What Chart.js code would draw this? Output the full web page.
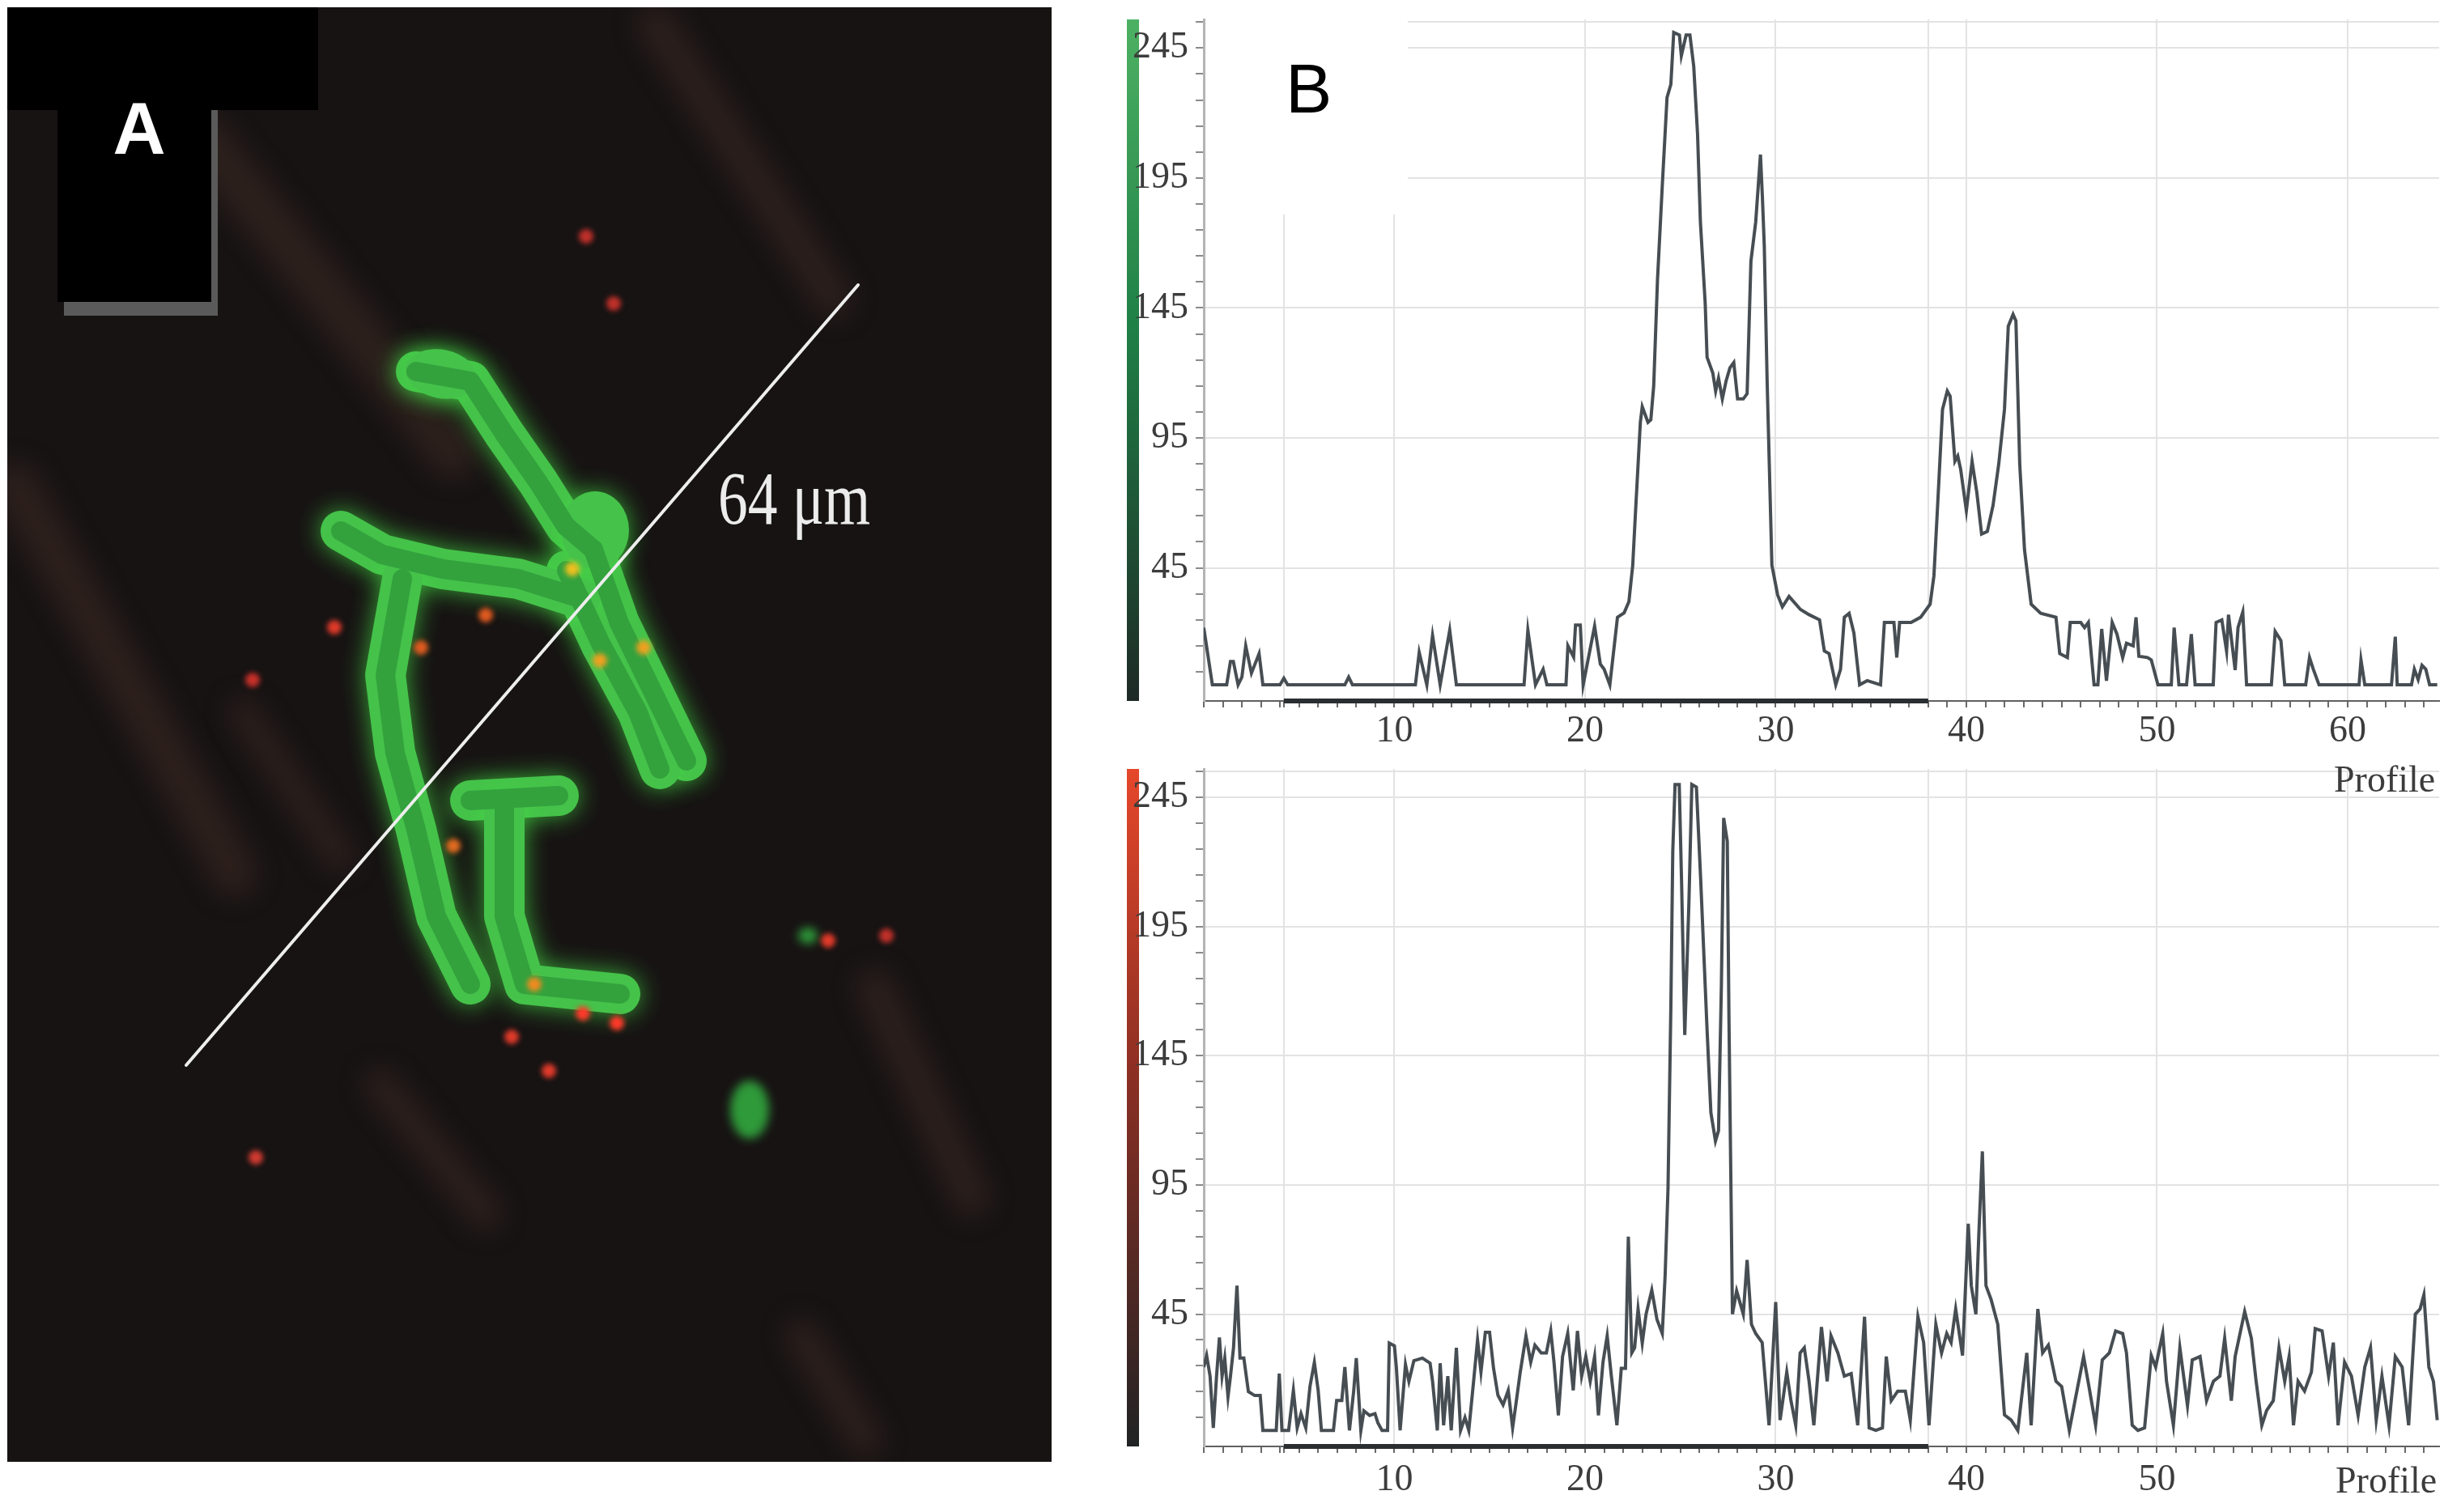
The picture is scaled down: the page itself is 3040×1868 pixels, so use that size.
<!DOCTYPE html>
<html>
<head>
<meta charset="utf-8">
<script src="https://cdn.jsdelivr.net/npm/chart.js@4.4.1/dist/chart.umd.min.js"></script>
<style>
  html, body { margin: 0; padding: 0; background: #fff; }
  body { width: 3040px; height: 1868px; position: relative; overflow: hidden; }
  canvas { display: block; }
  .abs { position: absolute; }
  #panelA { left: 9px; top: 9px; }
  .cbar { position: absolute; left: 1392px; width: 15px; }
  #cbarG { top: 24px; height: 842px; background: linear-gradient(#4db163, #1f8046 45%, #1e2a26 100%); }
  #cbarR { top: 950px; height: 837px; background: linear-gradient(#e5472a, #8c2f23 45%, #202324 100%); }
  .lbl { position: absolute; font-family: "Liberation Serif", serif; font-size: 46px; color: #3c3c3c; line-height: 1; }
  #B { left: 1588px; top: 66px; font-family: "Liberation Sans", Arial, sans-serif; font-size: 86px; color: #000; line-height: 1; }
</style>
</head>
<body>
<canvas id="panelA" class="abs" width="1290" height="1797"></canvas>
<div id="cbarG" class="cbar"></div>
<div id="cbarR" class="cbar"></div>
<canvas id="topChart" class="abs" width="1660" height="930" style="left:1380px;top:0"></canvas>
<canvas id="botChart" class="abs" width="1660" height="938" style="left:1380px;top:930px"></canvas>
<div id="B" class="abs">B</div>
<div class="lbl" style="left:2883px;top:940px">Profile</div>
<div class="lbl" style="left:2885px;top:1806px">Profile</div>

<script>
// distance along the line (µm) and intensity, green channel
const greenPos = [0, 0.45, 1.2, 1.4, 1.55, 1.8, 2.0, 2.2, 2.5, 2.9, 3.1, 4.0, 4.2, 4.4, 7.4, 7.6, 7.8,
  11.1, 11.3, 11.7, 12.0, 12.4, 12.9, 13.25, 16.8, 17.0, 17.4, 17.8, 18.0, 19.0, 19.1, 19.4, 19.5, 19.75, 19.9,
  20.5, 20.8, 21.0, 21.3, 21.7, 22.05, 22.3, 22.5, 22.65, 22.9, 23.0, 23.3, 23.45, 23.6, 23.8, 24.05, 24.3, 24.5,
  24.65, 24.95, 25.05, 25.3, 25.5, 25.7, 25.9, 26.05, 26.3, 26.4, 26.7, 26.85, 27.0, 27.2, 27.4, 27.6, 27.8,
  28.0, 28.3, 28.5, 28.7, 28.95, 29.2, 29.3, 29.4, 29.55, 29.8, 30.1, 30.35, 30.7, 31.3, 31.75, 32.3, 32.55,
  32.8, 33.15, 33.4, 33.6, 33.85, 34.1, 34.4, 34.8, 35.5, 35.7, 36.2, 36.35, 36.5, 37.1, 37.6, 38.1, 38.3,
  38.5, 38.75, 39.0, 39.15, 39.4, 39.55, 39.7, 40.0, 40.3, 40.55, 40.8, 41.1, 41.4, 41.7, 42.0, 42.2, 42.45,
  42.6, 42.8, 43.05, 43.4, 43.9, 44.7, 44.9, 45.3, 45.45, 46.0, 46.2, 46.4, 46.7, 46.9, 47.1, 47.35, 47.65,
  47.9, 48.2, 48.4, 48.75, 48.9, 49.05, 49.5, 49.7, 50.05, 50.75, 50.9, 51.15, 51.55, 51.8, 52.0, 52.95, 53.1,
  53.4, 53.65, 53.75, 54.1, 54.25, 54.5, 54.7, 56.0, 56.2, 56.5, 56.7, 57.8, 58.0, 58.2, 58.5, 60.6, 60.7,
  60.9, 62.3, 62.5, 62.6, 63.35, 63.5, 63.7, 63.9, 64.1, 64.3, 64.7];
const greenVal = [22, 0, 0, 9, 9, 0, 3, 15, 4.5, 12, 0, 0, 2.5, 0, 0, 3, 0,
  0, 12.5, 0, 19, 0, 21, 0, 0, 21, 0, 6, 0, 0, 15, 10.7, 23, 23, 0,
  22.6, 8, 6, 0, 26, 27.7, 32, 46, 67, 101, 107, 101, 102, 115, 156, 192, 226, 231,
  251, 250, 242, 250, 250, 238, 212, 178, 147, 126, 120, 113, 118, 110, 117, 122, 124,
  110, 110, 112, 163, 178, 204, 188, 169, 117, 46, 34.6, 30, 34, 29, 27, 25, 13,
  12, 0, 6, 26, 27.5, 20, 0, 1.6, 0, 24, 24, 10.5, 24, 24, 26, 31, 42,
  70, 106, 113, 111, 86, 88, 83, 67, 86, 74, 58, 59, 69, 85, 106, 138, 142.5,
  140, 85, 52, 31, 27.5, 26, 12, 10.5, 24, 24, 22, 24, 0, 0, 21.5, 1.6, 24,
  19.5, 10.5, 16, 15, 26, 11, 10.5, 9.6, 0, 0, 22, 0, 0, 19.5, 0, 0, 24,
  25, 13, 27, 5.7, 22, 28, 0, 0, 20.5, 17, 0, 0, 10.5, 6, 0, 0, 9.6,
  0, 0, 18.5, 0, 0, 6, 2, 7.5, 6, 0, 0];

// red channel
const redPos = [0, 0.15, 0.33, 0.5, 0.67, 0.82, 0.96, 1.1, 1.27, 1.4, 1.56, 1.74, 1.9, 2.1, 2.34, 2.67, 2.96,
  3.1, 3.8, 3.96, 4.1, 4.45, 4.7, 4.9, 5.1, 5.35, 5.57, 5.8, 6.0, 6.17, 6.8, 6.97, 7.24, 7.4, 7.64, 7.86, 8.0,
  8.24, 8.4, 8.7, 8.98, 9.13, 9.35, 9.64, 9.73, 10.0, 10.1, 10.3, 10.58, 10.76, 11.02, 11.47, 11.87, 12.0,
  12.25, 12.4, 12.58, 12.8, 12.98, 13.25, 13.47, 13.7, 13.9, 14.14, 14.36, 14.54, 14.77, 14.99, 15.2, 15.43,
  15.7, 15.97, 16.2, 16.37, 16.6, 16.9, 17.15, 17.37, 17.7, 17.97, 18.2, 18.37, 18.6, 18.82, 19.09, 19.38,
  19.6, 19.82, 20.04, 20.27, 20.5, 20.7, 20.94, 21.16, 21.38, 21.67, 21.9, 22.12, 22.27, 22.45, 22.6, 22.78,
  23.0, 23.2, 23.5, 23.77, 24.05, 24.2, 24.35, 24.5, 24.6, 24.72, 24.94, 25.06, 25.23, 25.45, 25.6, 25.84,
  26.06, 26.4, 26.6, 26.84, 27.0, 27.15, 27.27, 27.46, 27.55, 27.73, 27.95, 28.3, 28.5, 28.73, 28.95, 29.29,
  29.65, 30.0, 30.23, 30.58, 30.8, 31.05, 31.28, 31.5, 31.75, 32.0, 32.4, 32.7, 32.9, 33.26, 33.6, 33.96,
  34.3, 34.66, 34.9, 35.25, 35.6, 35.8, 36.06, 36.4, 36.8, 37.06, 37.46, 37.76, 38.04, 38.4, 38.7, 38.97,
  39.2, 39.44, 39.8, 40.1, 40.26, 40.5, 40.65, 40.84, 41.03, 41.3, 41.65, 42.0, 42.35, 42.7, 43.17, 43.4,
  43.75, 44.0, 44.3, 44.7, 45.0, 45.4, 45.7, 46.15, 46.43, 46.78, 47.13, 47.5, 47.83, 48.2, 48.4, 48.7,
  49.0, 49.35, 49.7, 49.93, 50.3, 50.5, 50.86, 51.2, 51.6, 51.85, 52.26, 52.6, 52.96, 53.3, 53.55, 53.9,
  54.1, 54.6, 54.95, 55.2, 55.5, 55.75, 56.1, 56.4, 56.7, 56.93, 57.16, 57.4, 57.74, 58.1, 58.3, 58.66,
  59.0, 59.25, 59.5, 59.84, 60.2, 60.55, 60.9, 61.2, 61.5, 61.8, 62.17, 62.5, 62.86, 63.2, 63.55, 63.8,
  64.0, 64.26, 64.5, 64.7];
const redVal = [24.5, 29, 21, 1, 21, 36, 21, 28, 13, 21, 32, 56, 28, 28, 15, 13.5, 13.5,
  0, 0, 22, 0, 0, 15.5, 1, 6.5, 1, 17, 26.3, 15.5, 0, 0, 11.6, 11.6, 24.5, 0, 15, 28,
  0, 7.6, 5.8, 6.5, 3, 0, 0, 33.8, 32.7, 24.5, 0, 25.5, 19, 27, 28, 26, 19,
  0, 26, 2, 21, 0, 32, 0, 5, 0, 18, 35, 22.6, 38, 38, 24, 13.6,
  9.9, 15.5, 1, 10, 22.6, 36.6, 26.4, 33, 30, 30, 38.5, 26.4, 5.8, 28.6, 37.5, 15.5,
  38.5, 21, 28.6, 19, 28.6, 5.8, 26.4, 36.6, 21, 2, 24, 24, 75, 30, 32, 47,
  33.8, 45, 54.3, 43, 37.5, 60, 93.5, 164, 224, 250, 250, 213, 153, 205, 250, 249,
  214, 155, 123, 112, 116, 172, 237, 228, 158, 45, 54, 45, 66, 41, 37.5, 34,
  2, 49.7, 4, 22.6, 11.5, 2, 30, 32, 19, 2, 40, 19, 36.6, 30, 21, 22,
  2, 44, 1, 0, 1, 28.6, 11.5, 15.2, 15.2, 4, 44, 34, 2, 41, 30, 37.5,
  34, 47, 29, 80, 56, 45, 75, 108, 56, 50.6, 41, 6, 4, 0, 30, 2,
  47, 30, 33, 19, 17, 0, 11.5, 28.6, 17, 2, 27.3, 30, 38.5, 37.5, 30, 2,
  0, 1, 29, 24.5, 37.5, 19, 2, 32, 9.6, 27.3, 28.6, 11.5, 19, 21, 35.7, 11.5,
  28.6, 46, 35.7, 19, 2, 7.7, 11.5, 32, 19, 28.6, 2, 19, 15.2, 22.6, 39.4, 38.5,
  21, 34, 2, 26.4, 21, 5.8, 24.5, 32, 4, 21, 2, 28.6, 24.5, 2, 45, 47,
  52.5, 24.5, 19, 4];

// axes
const yMin = -6.2, yMax = 256;
const xMax = 64.8;
const yTickValues = [5, 15, 25, 35, 45, 55, 65, 75, 85, 95, 105, 115, 125, 135, 145, 155, 165, 175, 185, 195, 205, 215, 225, 235, 245, 255];
const yLabels = [45, 95, 145, 195, 245];
const xTickValues = [0, 1, 2, 3, 4, 4.2, 5, 6, 7, 8, 9, 10, 11, 12, 13, 14, 15, 16, 17, 18, 19, 20, 21, 22, 23, 24, 25, 26,
  27, 28, 29, 30, 31, 32, 33, 34, 35, 36, 37, 38, 39, 40, 41, 42, 43, 44, 45, 46, 47, 48, 49, 50, 51, 52, 53, 54,
  55, 56, 57, 58, 59, 60, 61, 62, 63, 64];
const xGrid = [4.2, 10, 20, 30, 38, 40, 50, 60];
const topXLabels = [10, 20, 30, 40, 50, 60];
const botXLabels = [10, 20, 30, 40, 50];
const selection = [4.2, 38.0];   // selected segment shown along the x axis

const serif = '"Liberation Serif", "Times New Roman", serif';

// white box behind the "B" label in the upper profile
const labelMask = {
  id: 'labelMask',
  beforeDatasetsDraw(chart) {
    const { ctx, chartArea, scales } = chart;
    const right = scales.x.getPixelForValue(10.7);
    const bottom = scales.y.getPixelForValue(181);
    ctx.save();
    ctx.fillStyle = '#fff';
    ctx.fillRect(chartArea.left + 2, chartArea.top - 12, right - chartArea.left - 2, bottom - chartArea.top + 12);
    ctx.restore();
  }
};

function profileChart(id, pos, val, xLabels, labelPad, top, plugins) {
  return new Chart(document.getElementById(id), {
    type: 'line',
    data: {
      datasets: [
        {
          data: pos.map((p, i) => ({ x: p, y: val[i] })),
          borderColor: '#474e53',
          borderWidth: 4,
          pointRadius: 0,
          tension: 0
        },
        {
          data: selection.map(p => ({ x: p, y: yMin })),
          borderColor: '#2b2e31',
          borderWidth: 6,
          pointRadius: 0,
          clip: false
        }
      ]
    },
    options: {
      responsive: false,
      animation: false,
      events: [],
      layout: { padding: { top: top, right: 27, left: 0, bottom: 0 } },
      plugins: { legend: { display: false }, tooltip: { enabled: false } },
      scales: {
        x: {
          type: 'linear',
          min: 0,
          max: xMax,
          afterBuildTicks: s => { s.ticks = xTickValues.map(v => ({ value: v })); },
          afterFit: s => {
            s.height = id === 'topChart' ? 64 : 81;
            s.paddingLeft = 0; s.paddingRight = 0;
          },
          ticks: {
            autoSkip: false,
            maxRotation: 0,
            padding: labelPad,
            color: '#3c3c3c',
            font: { family: serif, size: 46 },
            callback: v => xLabels.includes(v) ? String(v) : ''
          },
          grid: {
            color: c => (c.tick && xGrid.includes(c.tick.value)) ? '#e3e3e3' : 'rgba(0,0,0,0)',
            lineWidth: 2,
            tickLength: 8,
            tickColor: '#6a6a6a',
            tickWidth: 2
          },
          border: { color: '#5e6062', width: 2 }
        },
        y: {
          min: yMin,
          max: yMax,
          afterBuildTicks: s => { s.ticks = yTickValues.map(v => ({ value: v })); },
          afterFit: s => {
            s.width = 107;
            s.paddingTop = 0; s.paddingBottom = 0;
          },
          ticks: {
            autoSkip: false,
            padding: 9,
            color: '#3c3c3c',
            font: { family: serif, size: 46 },
            callback: v => yLabels.includes(v) ? String(v) : ''
          },
          grid: {
            color: c => (c.tick && (yLabels.includes(c.tick.value) || c.tick.value === 255)) ? '#e3e3e3' : 'rgba(0,0,0,0)',
            lineWidth: 2,
            tickLength: 10,
            tickColor: '#8a8a8a',
            tickWidth: 2
          },
          border: { color: '#b4b4b4', width: 3 }
        }
      }
    },
    plugins: plugins
  });
}

profileChart('topChart', greenPos, greenVal, topXLabels, 2, 24, [labelMask]);
profileChart('botChart', redPos, redVal, botXLabels, 6, 20, []);

// panel A: the fluorescence image with the measured line
function drawSample() {
  const g = document.getElementById('panelA').getContext('2d');
  g.translate(-9, -9);
  g.fillStyle = '#171313';
  g.fillRect(9, 9, 1290, 1797);

  g.lineCap = 'round';
  g.lineJoin = 'round';

  // faint brownish fibres in the background
  g.save();
  g.filter = 'blur(16px)';
  g.strokeStyle = 'rgba(90,58,50,0.32)';
  [[[20, 600], [290, 1080], 55], [[810, 30], [1030, 370], 45], [[250, 170], [560, 560], 60],
   [[470, 1340], [600, 1500], 40], [[990, 1650], [1070, 1780], 40], [[1080, 1220], [1200, 1480], 45],
   [[300, 880], [420, 1060], 35]].forEach(([a, b, w]) => {
    g.lineWidth = w;
    g.beginPath(); g.moveTo(a[0], a[1]); g.lineTo(b[0], b[1]); g.stroke();
  });
  g.restore();

  // green branches
  const tubes = [
    [[514, 459], [581, 471], [623, 536], [665, 596], [699, 650], [733, 679]],
    [[733, 679], [765, 770], [808, 858], [848, 940]],
    [[700, 705], [742, 795], [788, 880], [815, 950]],
    [[421, 656], [472, 685], [547, 703], [640, 715], [716, 739]],
    [[497, 715], [476, 834], [488, 930], [514, 1025], [539, 1132], [581, 1216]],
    [[581, 989], [690, 983]],
    [[623, 1001], [623, 1132], [648, 1216], [766, 1228]]
  ];
  const path = pts => {
    g.beginPath();
    g.moveTo(pts[0][0], pts[0][1]);
    pts.slice(1).forEach(p => g.lineTo(p[0], p[1]));
  };
  g.save();
  g.shadowColor = 'rgba(70,220,70,0.75)';
  g.shadowBlur = 30;
  g.strokeStyle = '#45c24a';
  g.lineWidth = 50;
  tubes.forEach(t => { path(t); g.stroke(); });
  g.beginPath(); g.ellipse(735, 655, 42, 48, 0, 0, Math.PI * 2); g.fillStyle = '#45c24a'; g.fill();
  g.beginPath(); g.ellipse(545, 462, 45, 30, 0.2, 0, Math.PI * 2); g.fill();
  g.restore();
  g.strokeStyle = '#33a23d';
  g.lineWidth = 24;
  tubes.forEach(t => { path(t); g.stroke(); });

  // isolated green spots
  g.save();
  g.filter = 'blur(6px)';
  g.fillStyle = '#2f9a3a';
  g.beginPath(); g.ellipse(926, 1371, 24, 36, 0, 0, Math.PI * 2); g.fill();
  g.beginPath(); g.ellipse(998, 1156, 12, 10, 0, 0, Math.PI * 2); g.fill();
  g.restore();

  // red and orange dots
  g.save();
  g.filter = 'blur(3px)';
  [[413, 775, '#e03a2a'], [312, 840, '#c8302a'], [316, 1430, '#d03a30'], [632, 1281, '#e03a2a'],
   [678, 1323, '#e03a2a'], [720, 1252, '#ff3a2a'], [762, 1264, '#ff3a2a'], [724, 292, '#c0302a'],
   [758, 375, '#c0302a'], [1023, 1162, '#e03a2a'], [1095, 1156, '#c0302a'], [741, 816, '#f0a020'],
   [707, 703, '#f0c020'], [660, 1216, '#f08a20'], [520, 800, '#e05a20'], [560, 1045, '#e06a20'],
   [600, 760, '#e05a20'], [795, 800, '#f0a020']].forEach(([x, y, c]) => {
    g.fillStyle = c;
    g.beginPath(); g.arc(x, y, 9, 0, Math.PI * 2); g.fill();
  });
  g.restore();

  // measured line and its length
  g.strokeStyle = '#eeeeee';
  g.lineWidth = 4;
  g.beginPath(); g.moveTo(230, 1316); g.lineTo(1060, 352); g.stroke();
  g.save();
  g.fillStyle = '#ececec';
  g.font = '94px "Liberation Serif", serif';
  g.textBaseline = 'alphabetic';
  g.translate(887, 647);
  g.scale(0.78, 1);
  g.fillText('64 μm', 0, 0);
  g.restore();

  // black label box with shadow
  g.fillStyle = '#5a5a5a';
  g.fillRect(261, 83, 8, 307);
  g.fillRect(79, 373, 190, 17);
  g.fillStyle = '#000';
  g.fillRect(9, 9, 384, 127);
  g.fillRect(71, 9, 190, 364);
  g.fillStyle = '#fff';
  g.font = 'bold 90px "Liberation Sans", Arial, sans-serif';
  g.textAlign = 'center';
  g.fillText('A', 172, 190);
}
drawSample();
</script>
</body>
</html>
